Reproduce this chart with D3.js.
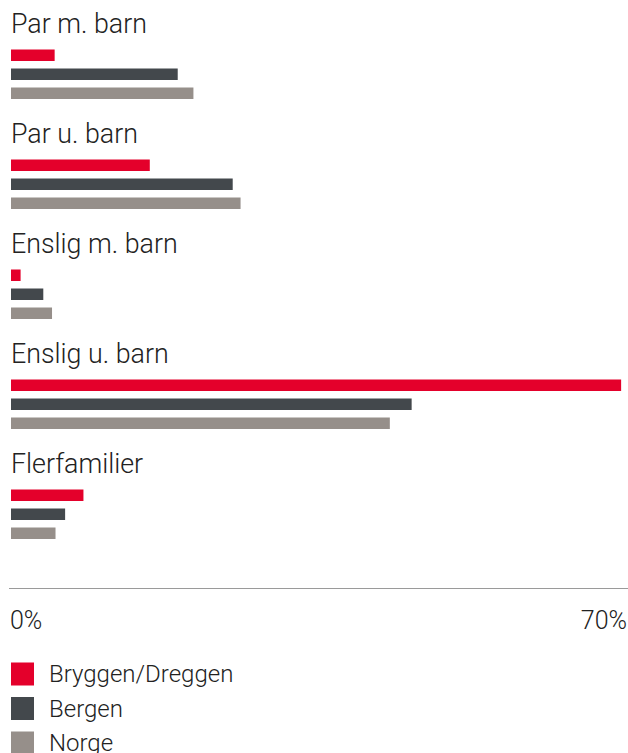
<!DOCTYPE html>
<html>
<head>
<meta charset="utf-8">
<script src="https://cdn.jsdelivr.net/npm/d3@7"></script>
<style>
  body { margin: 0; background: #fff; }
  svg text { font-family: Roboto, "Noto Sans", sans-serif; font-weight: 300; fill: #222; }
</style>
</head>
<body>
<div id="viz"></div>
<script>
// Household types and the share (%) in each area
var categories = ['Par m. barn', 'Par u. barn', 'Enslig m. barn', 'Enslig u. barn', 'Flerfamilier'];
var series = ['Bryggen/Dreggen', 'Bergen', 'Norge'];
var colors = ['#e4002b', '#43484c', '#968f8a'];

var bryggen = [5.0, 15.9, 1.1, 69.9, 8.3];
var bergen  = [19.1, 25.4, 3.7, 45.9, 6.2];
var norge   = [20.9, 26.3, 4.7, 43.4, 5.1];

var tickValues = [0, 70];

var width = 628, height = 753;

var svg = d3.select('#viz')
  .append('svg')
  .attr('width', width)
  .attr('height', height);

// x scale: 0 - 70 %
var x = d3.scaleLinear()
  .domain([0, 70])
  .range([11, 622]);

// each category gets a 110px band, label on top, then the three bars
var y = d3.scaleBand()
  .domain(categories)
  .range([0, 550]);

// bars 11.5px high on a 19px step
var inner = d3.scaleBand()
  .domain(series)
  .range([49.5, 99])
  .paddingInner(7.5 / 19);

var groups = svg.selectAll('g.cat')
  .data(categories)
  .enter()
  .append('g')
  .attr('class', 'cat')
  .attr('transform', function(d) { return 'translate(0,' + y(d) + ')'; });

groups.append('text')
  .attr('x', 11)
  .attr('y', 33)
  .style('font-size', '26.8px')
  .text(function(d) { return d; });

var allValues = [bryggen, bergen, norge];

groups.each(function(cat, i) {
  d3.select(this).selectAll('rect')
    .data(series)
    .enter()
    .append('rect')
    .attr('x', x(0))
    .attr('y', function(s) { return inner(s); })
    .attr('height', inner.bandwidth())
    .attr('width', function(s, j) { return x(allValues[j][i]) - x(0); })
    .attr('fill', function(s, j) { return colors[j]; });
});

// axis line and the two end labels
svg.append('line')
  .attr('x1', 9).attr('x2', 628)
  .attr('y1', 588.5).attr('y2', 588.5)
  .attr('stroke', '#9a9a9a')
  .attr('stroke-width', 1);

svg.selectAll('text.tick')
  .data(tickValues)
  .enter()
  .append('text')
  .attr('class', 'tick')
  .attr('x', function(d, i) { return i == 0 ? x(d) - 1 : 627; })
  .attr('y', 629)
  .attr('text-anchor', function(d, i) { return i == 0 ? 'start' : 'end'; })
  .style('font-size', '25px')
  .text(function(d) { return d + '%'; });

// legend
var legend = svg.selectAll('g.legend')
  .data(series)
  .enter()
  .append('g')
  .attr('class', 'legend')
  .attr('transform', function(d, i) { return 'translate(11,' + (662.5 + i * 34.5) + ')'; });

legend.append('rect')
  .attr('width', 23)
  .attr('height', 23)
  .attr('fill', function(d, i) { return colors[i]; });

legend.append('text')
  .attr('x', 38)
  .attr('y', 19.5)
  .style('font-size', '24px')
  .text(function(d) { return d; });
</script>
</body>
</html>
